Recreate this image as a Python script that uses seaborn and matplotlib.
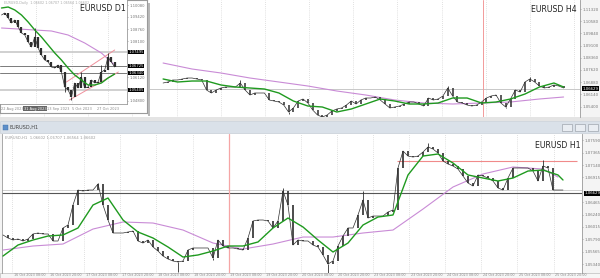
import numpy as np
import matplotlib
matplotlib.use("Agg")
import matplotlib.pyplot as plt
import seaborn as sns
from matplotlib.patches import Rectangle

sns.set_theme(style="white")
plt.rcParams["font.family"] = ["DejaVu Sans"]

# ---------------- data ----------------
# H1 closes (one value every ~5 px of the original chart)
h1_close = [1.05870, 1.05815, 1.05779, 1.05797, 1.05761, 1.05797, 1.05888, 1.05906, 1.05888, 1.05888,
            1.05761, 1.05761, 1.05997, 1.06051, 1.06414, 1.06686, 1.06668, 1.06686, 1.06686, 1.06795,
            1.06414, 1.06142, 1.05906, 1.05906, 1.05906, 1.05924, 1.05942, 1.05761, 1.05724, 1.05779,
            1.05652, 1.05579, 1.05488, 1.05434, 1.05398, 1.05380, 1.05398, 1.05597, 1.05634, 1.05634,
            1.05634, 1.05634, 1.05452, 1.05779, 1.05670, 1.05634, 1.05634, 1.05615, 1.05597, 1.05815,
            1.06124, 1.06142, 1.06142, 1.06124, 1.05997, 1.06124, 1.06668, 1.06414, 1.05688, 1.05779,
            1.05761, 1.05761, 1.05688, 1.05652, 1.05507, 1.05343, 1.05398, 1.05670, 1.05851, 1.05997,
            1.05997, 1.06233, 1.06505, 1.06178, 1.06214, 1.06214, 1.06214, 1.06287, 1.06323, 1.07086,
            1.07394, 1.07303, 1.07285, 1.07303, 1.07376, 1.07467, 1.07430, 1.07358, 1.07213, 1.07158,
            1.07122, 1.07067, 1.06940, 1.06813, 1.06759, 1.06959, 1.06940, 1.06904, 1.06850, 1.06723,
            1.06686, 1.06904, 1.07086, 1.07086, 1.07086, 1.07086, 1.07031, 1.06850, 1.07122, 1.07086,
            1.06686, 1.06686, 1.06686]
h1_wick_idx = [19, 35, 42, 56, 65, 72, 85, 108]
h1_wick_val = [1.06813, 1.05199, 1.05416, 1.06723, 1.05180, 1.06668, 1.07539, 1.07231]
h1_green_idx = list(range(0, 112, 3)) + [112]
h1_green = [1.05488, 1.05688, 1.05779, 1.05851, 1.05870, 1.05997, 1.06414, 1.06541, 1.06142, 1.05924,
            1.05815, 1.05652, 1.05470, 1.05507, 1.05579, 1.05670, 1.05670, 1.05743, 1.05997, 1.06178,
            1.06015, 1.05779, 1.05561, 1.05724, 1.06051, 1.06196, 1.06233, 1.06959, 1.07303, 1.07340,
            1.07176, 1.06959, 1.06904, 1.06850, 1.06904, 1.07031, 1.07049, 1.06959, 1.06868]
h1_purple_idx = list(range(0, 109, 6)) + [111]
h1_purple = [1.05597, 1.05670, 1.05706, 1.05978, 1.06106, 1.06087, 1.05960, 1.05724, 1.05615, 1.05706,
             1.05833, 1.05833, 1.05906, 1.05960, 1.06341, 1.06741, 1.06977, 1.07104, 1.07067, 1.06922]
h1_bid, h1_ask = 1.06629, 1.06686
h1_res_level, h1_res_start, h1_res_end = 1.07213, 78.8, 114.8
h1_ticks = [1.07590, 1.07365, 1.07140, 1.06915, 1.06465, 1.06240, 1.06015, 1.05790, 1.05565, 1.05340]
h1_time_labels = ["16 Oct 2023 08:00", "16 Oct 2023 20:00", "17 Oct 2023 08:00", "17 Oct 2023 20:00",
                  "18 Oct 2023 08:00", "18 Oct 2023 20:00", "19 Oct 2023 08:00", "19 Oct 2023 20:00",
                  "20 Oct 2023 08:00", "20 Oct 2023 20:00", "23 Oct 2023 08:00", "23 Oct 2023 20:00",
                  "24 Oct 2023 08:00", "24 Oct 2023 20:00", "25 Oct 2023 08:00", "25 Oct 2023 20:00"]

# H4 closes
h4_close = [1.06831, 1.06892, 1.07013, 1.07013, 1.07074, 1.07134, 1.07134, 1.07074, 1.07013, 1.06407,
            1.06225, 1.06407, 1.06528, 1.06589, 1.06589, 1.06589, 1.06831, 1.06407, 1.06103, 1.06225,
            1.06225, 1.06225, 1.05800, 1.05739, 1.05679, 1.05497, 1.05072, 1.05315, 1.05739, 1.05861,
            1.05618, 1.05193, 1.04890, 1.04769, 1.04890, 1.05133, 1.05254, 1.05315, 1.05497, 1.05739,
            1.05557, 1.05800, 1.05921, 1.05921, 1.05982, 1.05800, 1.05557, 1.05315, 1.05375, 1.05436,
            1.05557, 1.05679, 1.05679, 1.05557, 1.05436, 1.05921, 1.05800, 1.05861, 1.06043, 1.06528,
            1.06043, 1.05679, 1.05618, 1.05497, 1.05436, 1.05497, 1.05679, 1.05921, 1.06043, 1.06103,
            1.05618, 1.05375, 1.05861, 1.06407, 1.06285, 1.06892, 1.07074, 1.06892, 1.06649, 1.06528,
            1.06589, 1.06710, 1.06649, 1.06528]
h4_wick_idx = [16, 26, 33, 59, 76, 71]
h4_wick_val = [1.07013, 1.04950, 1.04700, 1.06649, 1.07195, 1.05300]
h4_green_idx = list(range(0, 82, 3)) + [83]
h4_green = [1.07074, 1.06892, 1.06952, 1.06952, 1.06710, 1.06589, 1.06528, 1.06467, 1.06225, 1.05739,
            1.05436, 1.05375, 1.05072, 1.05254, 1.05557, 1.05861, 1.05739, 1.05557, 1.05557, 1.05618,
            1.05921, 1.05921, 1.05618, 1.05679, 1.05861, 1.06164, 1.06589, 1.06831, 1.06589]
h4_purple_idx = list(range(0, 79, 6)) + [83]
h4_purple = [1.08044, 1.07680, 1.07438, 1.07134, 1.06892, 1.06649, 1.06346, 1.06103, 1.05800, 1.05618,
             1.05557, 1.05618, 1.05679, 1.05861, 1.05982]
h4_bid = 1.06470
h4_ticks = [1.11320, 1.10580, 1.09840, 1.09100, 1.08360, 1.07620, 1.06880, 1.06140, 1.05400]

# D1 closes
d1_close = [1.09530, 1.09640, 1.09365, 1.09090, 1.09255, 1.08870, 1.08540, 1.08430, 1.08045, 1.07770,
            1.08320, 1.07715, 1.07330, 1.07055, 1.06945, 1.06670, 1.06615, 1.06780, 1.06395, 1.05570,
            1.05405, 1.05020, 1.05790, 1.05515, 1.06120, 1.05515, 1.05570, 1.05955, 1.05790, 1.05845,
            1.06395, 1.06505, 1.07220, 1.06945, 1.06670]
d1_wick_idx = [10, 19, 21, 24, 30, 32]
d1_wick_val = [1.08815, 1.05295, 1.04855, 1.06395, 1.06780, 1.07440]
d1_green_idx = list(range(0, 35, 2))
d1_green = [1.09915, 1.09970, 1.09805, 1.09530, 1.09145, 1.08705, 1.08320, 1.07880, 1.07440, 1.07055,
            1.06615, 1.06230, 1.05955, 1.05680, 1.05680, 1.05790, 1.06065, 1.06285]
d1_purple_idx = [0, 5, 10, 15, 20, 25, 30, 34]
d1_purple = [1.08815, 1.08760, 1.08705, 1.08650, 1.08430, 1.07990, 1.07440, 1.06780]
d1_levels = [1.07495, 1.06725, 1.06340, 1.05405]
d1_level_colors = ["#c8c8c8", "#7a7a7a", "#7a7a7a", "#c8c8c8"]
d1_ticks = [1.10080, 1.09420, 1.08760, 1.08100, 1.06120, 1.04800]
d1_chan_upper = ([19.5, 34.0], [1.05845, 1.07605])
d1_chan_lower = ([20.4, 35.1], [1.04855, 1.06395])
d1_time_labels = ["22 Aug 2023", "31 Aug 2023", "13 Sep 2023", "5 Oct 2023", "27 Oct 2023"]
d1_time_pos = [-0.2, 10.1, 17.0, 24.2, 32.0]

W, H = 600, 278
GREEN, PURPLE, CANDLE = "#1f9a1f", "#c98bd6", "#2e2e2e"


def rect(x0, y0, x1, y1):
    return [x0 / W, 1 - y1 / H, (x1 - x0) / W, (y1 - y0) / H]


def draw_candles(ax, close, widx, wval, body_lw):
    c = np.asarray(close)
    idx = np.arange(len(c))
    op = np.r_[c[0], c[:-1]]
    ax.vlines(idx, np.minimum(op, c), np.maximum(op, c), color=CANDLE, lw=body_lw, zorder=4)
    ax.vlines(widx, c[widx], wval, color=CANDLE, lw=0.6, zorder=4)
    sns.lineplot(x=idx, y=c, ax=ax, color=CANDLE, lw=0.5, zorder=4)


def style_price_axis(ax, ticks, fs=2.8):
    ax.yaxis.tick_right()
    ax.set_yticks(ticks)
    ax.set_yticklabels([f"{t:.5f}" for t in ticks])
    ax.tick_params(axis="y", labelsize=fs, colors="#777777", length=1.0, width=0.4, pad=0.8)
    ax.tick_params(axis="x", length=0, labelbottom=False)
    ax.set_xlabel("")
    ax.set_ylabel("")
    for s in ["left", "top", "bottom"]:
        ax.spines[s].set_visible(False)
    ax.spines["right"].set_color("#9a9a9a")
    ax.spines["right"].set_linewidth(0.6)


def price_box(ax, y, text, fs=2.8, x=1.004):
    ax.text(x, y, text, transform=ax.get_yaxis_transform(), fontsize=fs, color="white",
            va="center", ha="left", zorder=10,
            bbox=dict(boxstyle="square,pad=0.12", fc="black", ec="none"))


fig = plt.figure(figsize=(6, 2.78), dpi=100)
fig.patch.set_facecolor("#f4f4f4")

# ---------------- H4 window ----------------
ax4 = fig.add_axes(rect(0, 0, 580, 117), zorder=1)
ax4.set_facecolor("white")
draw_candles(ax4, h4_close, h4_wick_idx, h4_wick_val, 1.1)
sns.lineplot(x=h4_green_idx, y=h4_green, ax=ax4, color=GREEN, lw=1.0, zorder=5)
sns.lineplot(x=h4_purple_idx, y=h4_purple, ax=ax4, color=PURPLE, lw=0.8, zorder=3)
ax4.axhline(h4_bid, color="#c8c8c8", lw=0.7, zorder=2)
ax4.set_xlim(-29.6, 86.4)
ax4.set_ylim(1.04769, 1.11866)
ax4.set_xticks(np.arange(2.8 - 9.15 * 4, 86, 9.15))
ax4.grid(axis="x", ls=(0, (1, 2)), color="#c4c4c4", lw=0.5)
ax4.axvline(66.4, color="#f29a9a", lw=0.7, zorder=2)
style_price_axis(ax4, h4_ticks)
price_box(ax4, h4_bid, "1.06629")
ax4.text(0.995, 0.96, "EURUSD H4", transform=ax4.transAxes, ha="right", va="top",
         fontsize=5.6, color="#222222", zorder=10)

# ---------------- D1 inset window ----------------
fig.patches.append(Rectangle((148 / W, 1 - 116 / H), 2 / W, 113 / H, transform=fig.transFigure,
                             fc="#b8b8b8", ec="none", zorder=4))
axdf = fig.add_axes(rect(0, 0, 147, 113), zorder=5)
axdf.set_facecolor("white")
axdf.set_xticks([]); axdf.set_yticks([])
for s in axdf.spines.values():
    s.set_color("#9a9a9a"); s.set_linewidth(0.8)

axd = fig.add_axes(rect(0, 0, 127, 104), zorder=6)
axd.set_facecolor("white")
draw_candles(axd, d1_close, d1_wick_idx, d1_wick_val, 1.6)
sns.lineplot(x=d1_green_idx, y=d1_green, ax=axd, color=GREEN, lw=1.0, zorder=5)
sns.lineplot(x=d1_purple_idx, y=d1_purple, ax=axd, color=PURPLE, lw=0.8, zorder=3)
for lv, col in zip(d1_levels, d1_level_colors):
    axd.axhline(lv, color=col, lw=1.2 if col == "#c8c8c8" else 0.7, zorder=2)
    price_box(axd, lv, f"{lv:.5f}", fs=2.7, x=1.012)
axd.plot(*d1_chan_upper, color="#f0909c", lw=0.7, zorder=3)
axd.plot(*d1_chan_lower, color="#f0909c", lw=0.7, zorder=3)
axd.set_xlim(-0.45, 37.7)
axd.set_ylim(1.04635, 1.10355)
axd.set_xticks([10.4, 21.2, 32.0])
axd.grid(axis="x", ls=(0, (1, 2)), color="#c4c4c4", lw=0.5)
style_price_axis(axd, d1_ticks, fs=2.7)
axd.spines["bottom"].set_visible(True)
axd.spines["bottom"].set_color("#9a9a9a"); axd.spines["bottom"].set_linewidth(0.6)
for x, lab in zip(d1_time_pos, d1_time_labels):
    kw = dict(fontsize=2.5, ha="center", va="top", color="#8a8a8a")
    if lab.startswith("22"):
        kw.update(ha="left")
    if lab.startswith("31"):
        kw.update(color="white", bbox=dict(boxstyle="square,pad=0.1", fc="#666666", ec="none"))
    axd.text(x, -0.025, lab, transform=axd.get_xaxis_transform(), **kw)
axd.text(0.63, 0.96, "EURUSD D1", transform=axd.transAxes, ha="left", va="top",
         fontsize=5.6, color="#222222", zorder=10)
axd.text(0.03, 0.995, "EURUSD,Daily  1.06602 1.06707 1.06564 1.06602", transform=axd.transAxes,
         ha="left", va="top", fontsize=2.4, color="#aaaaaa", zorder=10)

# ---------------- separator + H1 title bar ----------------
fig.patches.append(Rectangle((0, 1 - 121 / H), 1, 4 / H, transform=fig.transFigure,
                             fc="#e4e4e4", ec="none", zorder=0))
fig.patches.append(Rectangle((0, 1 - 133 / H), 1, 12 / H, transform=fig.transFigure,
                             fc="#dae1e9", ec="#c2c9d2", lw=0.4, zorder=0))
fig.patches.append(Rectangle((3 / W, 1 - 130 / H), 5 / W, 5 / H, transform=fig.transFigure,
                             fc="#5d8fc9", ec="#3d6fa9", lw=0.3, zorder=2))
fig.text(10 / W, 1 - 127.3 / H, "EURUSD,H1", fontsize=3.6, color="#444444", va="center", ha="left")
for bx in [562, 575, 588]:
    fig.patches.append(Rectangle((bx / W, 1 - 131 / H), 10 / W, 7 / H, transform=fig.transFigure,
                                 fc="#e9edf2", ec="#8f969e", lw=0.4, zorder=2))

# ---------------- H1 window ----------------
ax1 = fig.add_axes(rect(2, 134, 582, 273), zorder=1)
ax1.set_facecolor("white")
draw_candles(ax1, h1_close, h1_wick_idx, h1_wick_val, 1.2)
sns.lineplot(x=h1_green_idx, y=h1_green, ax=ax1, color=GREEN, lw=1.0, zorder=5)
sns.lineplot(x=h1_purple_idx, y=h1_purple, ax=ax1, color=PURPLE, lw=0.8, zorder=3)
ax1.axhline(h1_ask, color="#cfcfcf", lw=0.7, zorder=2)
ax1.axhline(h1_bid, color="#555555", lw=0.8, zorder=2)
ax1.hlines(h1_res_level, h1_res_start, h1_res_end, color="#f08a8a", lw=0.8, zorder=2)
ax1.set_xlim(-0.2, 115.8)
ax1.set_ylim(1.05180, 1.07703)
grid_pos = np.arange(1.8, 115, 7.22)
ax1.set_xticks(grid_pos)
ax1.grid(axis="x", ls=(0, (1, 2)), color="#c4c4c4", lw=0.5)
ax1.axvline(45.2, color="#f5a5a5", lw=0.9, zorder=2)
style_price_axis(ax1, h1_ticks)
ax1.spines["left"].set_visible(True); ax1.spines["left"].set_color("#9a9a9a")
ax1.spines["left"].set_linewidth(0.6)
price_box(ax1, h1_bid, f"{h1_bid:.5f}")
ax1.text(0.997, 0.95, "EURUSD H1", transform=ax1.transAxes, ha="right", va="top",
         fontsize=5.6, color="#222222", zorder=10)
ax1.text(0.005, 0.985, "EURUSD,H1  1.06602 1.06707 1.06564 1.06602", transform=ax1.transAxes,
         ha="left", va="top", fontsize=2.7, color="#9a9a9a", zorder=10)

# time axis of H1
fig.patches.append(Rectangle((0, 0), 1, 5 / H, transform=fig.transFigure, fc="#f6f6f6",
                             ec="#b0b0b0", lw=0.4, zorder=0))
for gp, lab in zip(grid_pos, h1_time_labels):
    fig.text((2 + (gp + 0.2) * 5) / W + 1.5 / W, 2.6 / H, lab, fontsize=2.4, color="#8a8a8a",
             va="center", ha="left")

fig.savefig("out.png", dpi=100, facecolor=fig.get_facecolor())
